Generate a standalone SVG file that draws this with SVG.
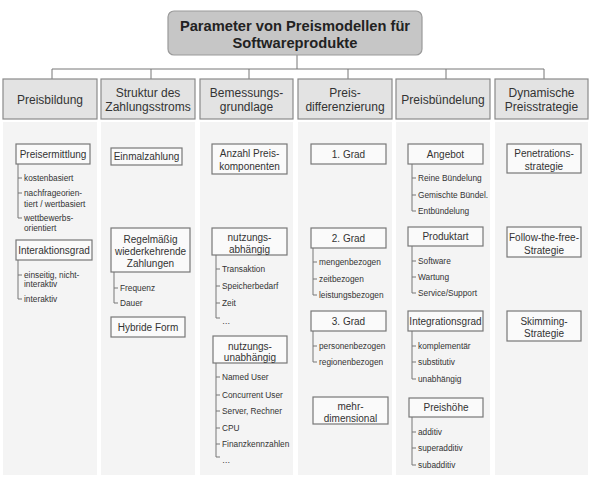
<svg xmlns="http://www.w3.org/2000/svg" width="595" height="478" viewBox="0 0 595 478">
<style>
text{font-family:"Liberation Sans",Arial,sans-serif;fill:#333}
.t{font-size:14.7px;font-weight:bold;text-anchor:middle;fill:#222}
.h{font-size:12px;text-anchor:middle}
.n{font-size:10px;text-anchor:middle}
.s{font-size:8.3px}
.col{fill:#f4f4f4}
.hd{fill:#e3e3e3;stroke:#8a8a8a;stroke-width:1.2}
.bx{fill:#fafafa;stroke:#777;stroke-width:1.2}
.c{stroke:#777;stroke-width:1;fill:none}
</style>
<rect width="595" height="478" fill="#fff"/>
<g id="columns">
<rect class="col" x="3" y="122" width="94" height="353"/>
<rect class="col" x="101" y="122" width="94" height="353"/>
<rect class="col" x="200" y="122" width="93" height="353"/>
<rect class="col" x="298" y="122" width="94" height="353"/>
<rect class="col" x="396" y="122" width="94" height="353"/>
<rect class="col" x="495" y="122" width="93" height="353"/>
</g>
<g id="connectors">
<path class="c" d="M297,55V69M52,69H544M52,69V79M151,69V79M249,69V79M348,69V79M446,69V79M544,69V79"/>
<path class="c" d="M18,164V218M18,178H22M18,193H22M18,218H22"/>
<path class="c" d="M18,260V299M18,275H22M18,299H22"/>
<path class="c" d="M114,272V303M114,288H118M114,303H118"/>
<path class="c" d="M216,255V318M216,269H220M216,286H220M216,303H220M216,318H220"/>
<path class="c" d="M216,363V457M216,377H220M216,395H220M216,411H220M216,428H220M216,444H220M216,457H220"/>
<path class="c" d="M313,248V295M313,262H317M313,279H317M313,295H317"/>
<path class="c" d="M313,331V362M313,346H317M313,362H317"/>
<path class="c" d="M412,164V211M412,178H416M412,195H416M412,211H416"/>
<path class="c" d="M412,246V293M412,261H416M412,277H416M412,293H416"/>
<path class="c" d="M412,331V379M412,346H416M412,362H416M412,379H416"/>
<path class="c" d="M412,417V465M412,432H416M412,448H416M412,465H416"/>
</g>
<g id="title">
<rect x="168" y="11" width="254" height="44" rx="6" fill="#c6c6c6" stroke="#9a9a9a" stroke-width="1.2"/>
<text class="t" x="295" y="31">Parameter von Preismodellen für</text>
<text class="t" x="295" y="48">Softwareprodukte</text>
</g>
<g id="h-preisbildung">
<rect class="hd" x="3" y="79" width="94" height="40"/>
<text class="h" x="50" y="103.5">Preisbildung</text>
</g>
<g id="h-struktur">
<rect class="hd" x="101" y="79" width="94" height="40"/>
<text class="h" x="148" y="97">Struktur des</text>
<text class="h" x="148" y="111">Zahlungsstroms</text>
</g>
<g id="h-bemessung">
<rect class="hd" x="200" y="79" width="93" height="40"/>
<text class="h" x="246.5" y="97">Bemessungs-</text>
<text class="h" x="246.5" y="111">grundlage</text>
</g>
<g id="h-differenzierung">
<rect class="hd" x="298" y="79" width="94" height="40"/>
<text class="h" x="345" y="97">Preis-</text>
<text class="h" x="345" y="111">differenzierung</text>
</g>
<g id="h-buendelung">
<rect class="hd" x="396" y="79" width="94" height="40"/>
<text class="h" x="443" y="103.5">Preisbündelung</text>
</g>
<g id="h-dynamisch">
<rect class="hd" x="495" y="79" width="93" height="40"/>
<text class="h" x="541.5" y="97">Dynamische</text>
<text class="h" x="541.5" y="111">Preisstrategie</text>
</g>
<g id="preisermittlung">
<rect class="bx" x="16" y="144" width="74" height="20"/>
<text class="n" x="53" y="157.5">Preisermittlung</text>
<text class="s" x="24" y="181">kostenbasiert</text>
<text class="s" x="24" y="196">nachfrageorien-</text>
<text class="s" x="24" y="207">tiert / wertbasiert</text>
<text class="s" x="24" y="221">wettbewerbs-</text>
<text class="s" x="24" y="231">orientiert</text>
</g>
<g id="interaktionsgrad">
<rect class="bx" x="16" y="240" width="76" height="20"/>
<text class="n" x="54" y="253.5">Interaktionsgrad</text>
<text class="s" x="24" y="278">einseitig, nicht-</text>
<text class="s" x="24" y="287">interaktiv</text>
<text class="s" x="24" y="302">interaktiv</text>
</g>
<g id="einmalzahlung">
<rect class="bx" x="111" y="148" width="71" height="17"/>
<text class="n" x="146.5" y="160">Einmalzahlung</text>
</g>
<g id="regelmaessig">
<rect class="bx" x="111" y="228" width="79" height="44"/>
<text class="n" x="150.5" y="242.5">Regelmäßig</text>
<text class="n" x="150.5" y="254.5">wiederkehrende</text>
<text class="n" x="150.5" y="266.5">Zahlungen</text>
<text class="s" x="120" y="291">Frequenz</text>
<text class="s" x="120" y="306">Dauer</text>
</g>
<g id="hybride">
<rect class="bx" x="111" y="317" width="74" height="20"/>
<text class="n" x="148" y="330.5">Hybride Form</text>
</g>
<g id="anzahl">
<rect class="bx" x="212" y="144" width="75" height="30"/>
<text class="n" x="249.5" y="156.5">Anzahl Preis-</text>
<text class="n" x="249.5" y="170">komponenten</text>
</g>
<g id="nutzungsabhaengig">
<rect class="bx" x="212" y="228" width="75" height="27"/>
<text class="n" x="249.5" y="240.5">nutzungs-</text>
<text class="n" x="249.5" y="252.5">abhängig</text>
<text class="s" x="222" y="272">Transaktion</text>
<text class="s" x="222" y="289">Speicherbedarf</text>
<text class="s" x="222" y="306">Zeit</text>
<text class="s" x="222" y="323.5">…</text>
</g>
<g id="nutzungsunabhaengig">
<rect class="bx" x="213" y="336" width="74" height="27"/>
<text class="n" x="250" y="349.5">nutzungs-</text>
<text class="n" x="250" y="361">unabhängig</text>
<text class="s" x="222" y="380">Named User</text>
<text class="s" x="222" y="398">Concurrent User</text>
<text class="s" x="222" y="414">Server, Rechner</text>
<text class="s" x="222" y="431">CPU</text>
<text class="s" x="222" y="447">Finanzkennzahlen</text>
<text class="s" x="222" y="463">…</text>
</g>
<g id="grad1">
<rect class="bx" x="311" y="144" width="75" height="20"/>
<text class="n" x="348.5" y="157.5">1. Grad</text>
</g>
<g id="grad2">
<rect class="bx" x="311" y="228" width="75" height="20"/>
<text class="n" x="348.5" y="241.5">2. Grad</text>
<text class="s" x="319" y="265">mengenbezogen</text>
<text class="s" x="319" y="282">zeitbezogen</text>
<text class="s" x="319" y="298">leistungsbezogen</text>
</g>
<g id="grad3">
<rect class="bx" x="311" y="311" width="75" height="20"/>
<text class="n" x="348.5" y="324.5">3. Grad</text>
<text class="s" x="319" y="349">personenbezogen</text>
<text class="s" x="319" y="365">regionenbezogen</text>
</g>
<g id="mehrdimensional">
<rect class="bx" x="313" y="397" width="75" height="27"/>
<text class="n" x="350.5" y="409.5">mehr-</text>
<text class="n" x="350.5" y="421.5">dimensional</text>
</g>
<g id="angebot">
<rect class="bx" x="408" y="144" width="75" height="20"/>
<text class="n" x="445.5" y="157.5">Angebot</text>
<text class="s" x="418" y="181">Reine Bündelung</text>
<text class="s" x="418" y="198">Gemischte Bündel.</text>
<text class="s" x="418" y="214">Entbündelung</text>
</g>
<g id="produktart">
<rect class="bx" x="408" y="227" width="75" height="19"/>
<text class="n" x="445.5" y="240">Produktart</text>
<text class="s" x="418" y="264">Software</text>
<text class="s" x="418" y="280">Wartung</text>
<text class="s" x="418" y="296">Service/Support</text>
</g>
<g id="integrationsgrad">
<rect class="bx" x="408" y="311" width="75" height="20"/>
<text class="n" x="445.5" y="324.5">Integrationsgrad</text>
<text class="s" x="418" y="349">komplementär</text>
<text class="s" x="418" y="365">substitutiv</text>
<text class="s" x="418" y="382">unabhängig</text>
</g>
<g id="preishoehe">
<rect class="bx" x="409" y="398" width="74" height="19"/>
<text class="n" x="446" y="411">Preishöhe</text>
<text class="s" x="418" y="435">additiv</text>
<text class="s" x="418" y="451">superadditiv</text>
<text class="s" x="418" y="468">subadditiv</text>
</g>
<g id="penetration">
<rect class="bx" x="507" y="144" width="74" height="29"/>
<text class="n" x="544" y="156.5">Penetrations-</text>
<text class="n" x="544" y="170">strategie</text>
</g>
<g id="followfree">
<rect class="bx" x="507" y="227" width="74" height="30"/>
<text class="n" x="544" y="240.5">Follow-the-free-</text>
<text class="n" x="544" y="253.5">Strategie</text>
</g>
<g id="skimming">
<rect class="bx" x="507" y="311" width="74" height="30"/>
<text class="n" x="544" y="324.5">Skimming-</text>
<text class="n" x="544" y="337">Strategie</text>
</g>
</svg>
